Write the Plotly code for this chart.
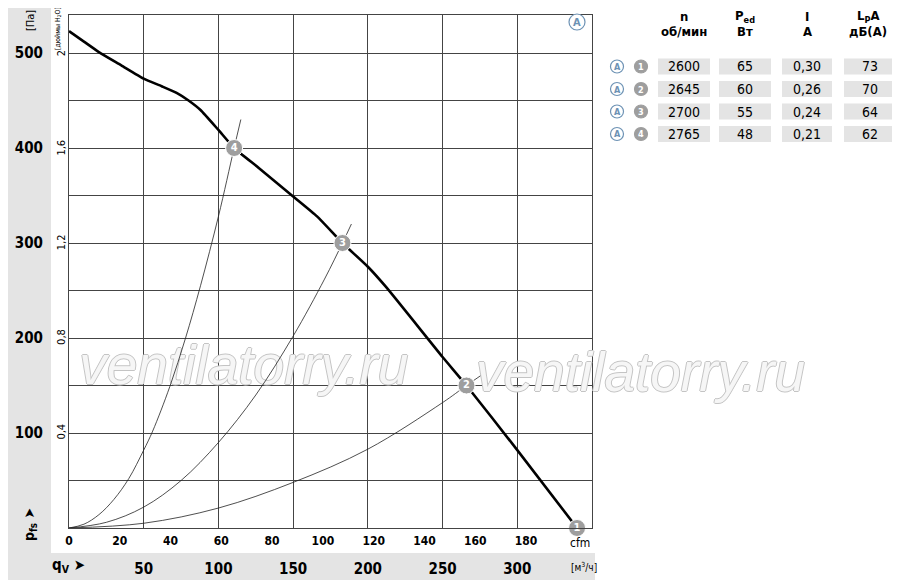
import plotly.graph_objects as go

# fan curve, q in m3/h, p in Pa
fan_q = [0, 10, 20, 35, 50, 62, 72, 80, 88, 100, 110.5, 127, 150, 166, 183, 200, 212, 250, 266, 300, 340]
fan_p = [523, 512, 501, 487, 473, 465, 458, 450, 440, 419, 400, 379, 349, 328, 300, 275, 254, 180, 150, 82, 0]

# system curves through the operating points
sys4_q = [0, 10, 20, 30, 40, 50, 56, 67.5, 78, 88, 100, 110.5, 115]
sys4_p = [0, 4, 14, 30, 52, 82, 102, 149, 200, 255, 328, 400, 430]
sys3_q = [0, 25, 50, 75, 100, 125, 150, 171, 183, 189]
sys3_p = [0, 6, 22, 50, 90, 140, 202, 262, 300, 320]
sys2_q = [0, 50, 100, 150, 200, 250, 266, 277]
sys2_p = [0, 5, 21, 48, 83, 132, 150, 162]

op_q = [340, 266, 183, 110.5]
op_p = [0, 150, 300, 400]
op_labels = ["1", "2", "3", "4"]

# axis ticks
m3h_ticks = [50, 100, 150, 200, 250, 300]
cfm_ticks = [0, 20, 40, 60, 80, 100, 120, 140, 160, 180]
pa_ticks = [100, 200, 300, 400, 500]
inh2o_ticks = [0.4, 0.8, 1.2, 1.6, 2.0]
inh2o_text = ["0,4", "0,8", "1,2", "1,6", "2"]

# table
speed = [2600, 2645, 2700, 2765]
power = [65, 60, 55, 48]
current = ["0,30", "0,26", "0,24", "0,21"]
noise = [73, 70, 64, 62]

Q_MAX, P_MAX = 350, 540
CFM = 1.699
PA_PER_INH2O = 249.09

FONT = "DejaVu Sans Condensed, Liberation Sans, sans-serif"
WM_FONT = dict(size=55, color="#f6f6f6", family="Liberation Sans, sans-serif", style="italic",
               shadow="1px 0 #c4c4c4, -1px 0 #c4c4c4, 0 1px #c4c4c4, 0 -1px #c4c4c4")
GRAY = "#e4e4e4"
BLUE = "#6d92b4"
MARK = "#9e9e9e"
GRID = "#444"

# page has an 8px body margin, so the figure is drawn 8px in from the corner
OFF = 8
FIG_W, FIG_H = 900 - OFF, 586 - OFF

# plot area in page pixels
PL, PR, PT, PB = 69, 592, 15, 528


def px(x):
    return (x - PL) / (PR - PL)


def py(y):
    return (PB - y) / (PB - PT)


fig = go.Figure()

# watermark inside the plot, under the curves
fig.add_trace(go.Scatter(
    x=[117], y=[166], mode="text", text=["ventilatorry.ru"], textfont=WM_FONT,
    cliponaxis=False, hoverinfo="skip", showlegend=False))

for q, p in [(sys4_q, sys4_p), (sys3_q, sys3_p), (sys2_q, sys2_p)]:
    fig.add_trace(go.Scatter(x=q, y=p, mode="lines", line=dict(color="#222", width=0.8, shape="spline"),
                             hoverinfo="skip", showlegend=False))

fig.add_trace(go.Scatter(x=fan_q, y=fan_p, mode="lines",
                         line=dict(color="black", width=2.6, shape="spline", smoothing=0.5),
                         showlegend=False))

fig.add_trace(go.Scatter(x=op_q, y=op_p, mode="markers+text", text=op_labels,
                         textposition="middle center",
                         textfont=dict(color="white", size=11, family=FONT, weight="bold"),
                         marker=dict(size=17, color=MARK, line=dict(color="white", width=1)),
                         cliponaxis=False, showlegend=False))

# dummy trace so the cfm / inch axes get drawn
fig.add_trace(go.Scatter(x=[0], y=[0], xaxis="x2", yaxis="y2", mode="markers",
                         marker=dict(opacity=0), hoverinfo="skip", showlegend=False))

shapes = []
annotations = []

# gray panels
shapes.append(dict(type="rect", xref="paper", yref="paper", x0=px(5), x1=px(51), y0=py(553), y1=py(0),
                   fillcolor=GRAY, line_width=0, layer="below"))
shapes.append(dict(type="rect", xref="paper", yref="paper", x0=px(5), x1=px(595), y0=py(580), y1=py(553),
                   fillcolor=GRAY, line_width=0, layer="below"))


def circle(cx, cy, r, fill, line):
    shapes.append(dict(type="circle", xref="paper", yref="paper",
                       x0=px(cx - r), x1=px(cx + r), y0=py(cy + r), y1=py(cy - r),
                       fillcolor=fill, line=dict(color=line, width=1.2)))


def text(x, y, s, size=14, bold=False, color="black", angle=0, xanchor="center", family=FONT):
    annotations.append(dict(xref="paper", yref="paper", x=px(x), y=py(y), text=s, showarrow=False,
                            xanchor=xanchor, yanchor="middle", textangle=angle,
                            font=dict(size=size, color=color, family=family,
                                      weight="bold" if bold else "normal")))


# second watermark, right of the plot
annotations.append(dict(xref="paper", yref="paper", x=px(640), y=py(372), text="ventilatorry.ru",
                        showarrow=False, xanchor="center", yanchor="middle", font=WM_FONT))

# "A" badge in the plot
circle(577, 22, 8, "white", BLUE)
text(577, 22.5, "A", size=11, bold=True, color=BLUE)

# axis titles
text(30, 21, "[Па]", size=11, angle=-90)
text(58, 29, "[дюймы H<sub>2</sub>O]", size=7, angle=-90)
text(30, 525, "p<sub>fs</sub> ➤", size=14, bold=True, angle=-90)
text(50, 566, "q<sub>V</sub> ➤", size=15, bold=True, xanchor="left")
text(584, 567, "[м<sup>3</sup>/ч]", size=10)
text(580, 543, "cfm", size=12)

# table header
cols = [684, 745, 807, 868]
HS = 13
R1, R2 = 16, 31
text(cols[0], R1, "n", size=HS, bold=True)
text(cols[0], R2, "об/мин", size=HS, bold=True)
text(cols[1], R1, "P<sub>ed</sub>", size=HS, bold=True)
text(cols[1], R2, "Вт", size=HS, bold=True)
text(cols[2], R1, "I", size=HS, bold=True)
text(cols[2], R2, "A", size=HS, bold=True)
text(cols[3], R1, "L<sub>P</sub>A", size=HS, bold=True)
text(cols[3], R2, "дБ(A)", size=HS, bold=True)

cells = [(658, 710), (719, 771), (782, 832), (844, 895)]
rows_y = [66.5, 89, 111.5, 134]
for i, yc in enumerate(rows_y):
    circle(617, yc, 6.5, "white", BLUE)
    text(617, yc + 0.5, "A", size=9, bold=True, color=BLUE)
    circle(641, yc, 6.5, MARK, MARK)
    text(641, yc + 0.5, op_labels[i], size=9, bold=True, color="white")
    vals = [str(speed[i]), str(power[i]), current[i], str(noise[i])]
    for (x0, x1), v in zip(cells, vals):
        shapes.append(dict(type="rect", xref="paper", yref="paper", x0=px(x0), x1=px(x1),
                           y0=py(yc + 8), y1=py(yc - 8), fillcolor=GRAY, line_width=0))
        text((x0 + x1) / 2, yc, v, size=14)

fig.update_layout(
    width=FIG_W, height=FIG_H, autosize=False,
    margin=dict(l=PL - OFF, r=FIG_W - (PR - OFF), t=PT - OFF, b=FIG_H - (PB - OFF), autoexpand=False),
    paper_bgcolor="white", plot_bgcolor="white",
    shapes=shapes, annotations=annotations,
    xaxis=dict(range=[0, Q_MAX], tickvals=m3h_ticks, ticktext=[str(v) for v in m3h_ticks],
               showgrid=True, gridcolor=GRID, gridwidth=1, zeroline=False, automargin=False,
               showline=True, mirror=True, linecolor=GRID, linewidth=1, ticks="",
               tickfont=dict(size=15, family=FONT, weight="bold", color="black"),
               ticklabelstandoff=27),
    xaxis2=dict(range=[0, Q_MAX / CFM], overlaying="x", anchor="y", side="bottom",
                tickvals=cfm_ticks, showgrid=False, zeroline=False, ticks="", automargin=False,
                tickfont=dict(size=12, family=FONT, weight="bold", color="black"),
                ticklabelstandoff=4),
    yaxis=dict(range=[0, P_MAX], tickvals=pa_ticks,
               showgrid=True, gridcolor=GRID, gridwidth=1, zeroline=False, automargin=False,
               showline=True, mirror=True, linecolor=GRID, linewidth=1, ticks="",
               minor=dict(tick0=0, dtick=50, showgrid=True, gridcolor=GRID, gridwidth=1, ticks=""),
               tickfont=dict(size=15, family=FONT, weight="bold", color="black"),
               ticklabelstandoff=22),
    yaxis2=dict(range=[0, P_MAX / PA_PER_INH2O], overlaying="y", anchor="x", side="left",
                tickvals=inh2o_ticks, ticktext=inh2o_text, tickangle=-90,
                showgrid=False, zeroline=False, ticks="", automargin=False,
                tickfont=dict(size=11, family=FONT, color="black"),
                ticklabelstandoff=1),
)

fig.write_html("out.html")
